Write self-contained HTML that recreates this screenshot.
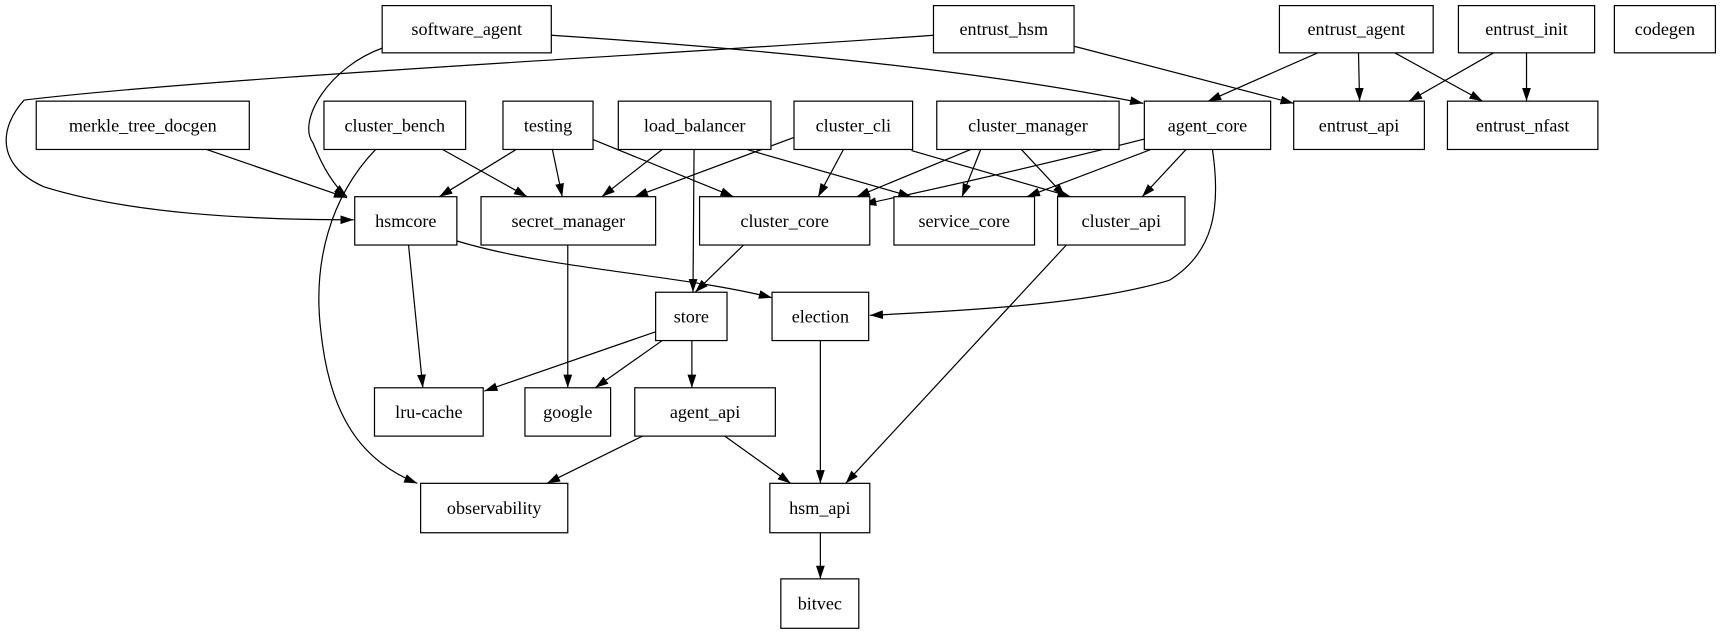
<!DOCTYPE html>
<html><head><meta charset="utf-8"><style>
html,body{margin:0;padding:0;background:#fff;}
svg{display:block;}
text{font-family:"Liberation Serif",serif;font-size:16.5px;text-anchor:middle;dominant-baseline:central;fill:#000;}
rect{fill:#fff;stroke:#000;stroke-width:1.1;}
path.e{fill:none;stroke:#000;stroke-width:1.1;marker-end:url(#a);}
</style></head><body>
<svg width="1722" height="635" viewBox="0 0 1568 578" xmlns="http://www.w3.org/2000/svg">
<defs><marker id="a" markerUnits="userSpaceOnUse" markerWidth="14" markerHeight="10" refX="12" refY="4" orient="auto"><path d="M0,0 L12,4 L0,8 z" fill="#000"/></marker></defs>
<g>
<path class="e" d="M350,43 C300,60 270,110 285,130 C295,155 305,170 316,179"/>
<path class="e" d="M502,32 C700,45 900,65 1041,94"/>
<path class="e" d="M850,32 C600,50 200,70 22,91 C0,115 -5,150 40,170 C120,195 230,200 322,200"/>
<path class="e" d="M978,42 L1178,94"/>
<path class="e" d="M1200,48 L1100,92"/>
<path class="e" d="M1237,48 L1238,92"/>
<path class="e" d="M1270,48 L1350,92"/>
<path class="e" d="M1360,48 L1283,92"/>
<path class="e" d="M1390,48 L1390,92"/>
<path class="e" d="M188,136 L316,180"/>
<path class="e" d="M403,136 L480,179"/>
<path class="e" d="M342,136 C300,180 285,240 292,300 C300,380 330,420 380,440"/>
<path class="e" d="M470,136 L400,179"/>
<path class="e" d="M503,136 L512,179"/>
<path class="e" d="M540,127 L668,179"/>
<path class="e" d="M603,136 L548,179"/>
<path class="e" d="M632,136 L631,266"/>
<path class="e" d="M680,136 L830,179"/>
<path class="e" d="M723,125 L578,179"/>
<path class="e" d="M768,136 L745,179"/>
<path class="e" d="M830,137 L975,179"/>
<path class="e" d="M884,136 L780,179"/>
<path class="e" d="M893,136 L876,179"/>
<path class="e" d="M930,136 L970,179"/>
<path class="e" d="M1044,126 C950,150 860,170 786,186"/>
<path class="e" d="M1048,136 L935,179"/>
<path class="e" d="M1080,136 L1040,179"/>
<path class="e" d="M1104,136 C1112,190 1105,230 1065,255 C1000,275 900,282 792,287"/>
<path class="e" d="M372,223 L385,353"/>
<path class="e" d="M415,219 C500,245 620,250 703,271"/>
<path class="e" d="M517,223 L517,353"/>
<path class="e" d="M677,223 L633,266"/>
<path class="e" d="M971,223 L770,440"/>
<path class="e" d="M597,302 L441,356"/>
<path class="e" d="M603,310 L542,353"/>
<path class="e" d="M630,310 L630,353"/>
<path class="e" d="M747,310 L747,440"/>
<path class="e" d="M585,397 L498,440"/>
<path class="e" d="M660,397 L720,440"/>
<path class="e" d="M747,485 L747,527"/>
</g>
<g>
<rect x="348" y="5" width="154" height="43"/><text x="425" y="26.5">software_agent</text>
<rect x="850" y="5" width="128" height="43"/><text x="914" y="26.5">entrust_hsm</text>
<rect x="1165" y="5" width="140" height="43"/><text x="1235" y="26.5">entrust_agent</text>
<rect x="1328" y="5" width="124" height="43"/><text x="1390" y="26.5">entrust_init</text>
<rect x="1470" y="5" width="92" height="43"/><text x="1516" y="26.5">codegen</text>

<rect x="33" y="92" width="194" height="44"/><text x="130" y="114">merkle_tree_docgen</text>
<rect x="295" y="92" width="129" height="44"/><text x="359.5" y="114">cluster_bench</text>
<rect x="458" y="92" width="82" height="44"/><text x="499" y="114">testing</text>
<rect x="563" y="92" width="139" height="44"/><text x="632.5" y="114">load_balancer</text>
<rect x="723" y="92" width="108" height="44"/><text x="777" y="114">cluster_cli</text>
<rect x="853" y="92" width="166" height="44"/><text x="936" y="114">cluster_manager</text>
<rect x="1042" y="92" width="115" height="44"/><text x="1099.5" y="114">agent_core</text>
<rect x="1178" y="92" width="119" height="44"/><text x="1237.5" y="114">entrust_api</text>
<rect x="1318" y="92" width="137" height="44"/><text x="1386.5" y="114">entrust_nfast</text>

<rect x="323" y="179" width="93" height="44"/><text x="369.5" y="201">hsmcore</text>
<rect x="438" y="179" width="159" height="44"/><text x="517.5" y="201">secret_manager</text>
<rect x="637" y="179" width="155" height="44"/><text x="714.5" y="201">cluster_core</text>
<rect x="814" y="179" width="128" height="44"/><text x="878" y="201">service_core</text>
<rect x="963" y="179" width="116" height="44"/><text x="1021" y="201">cluster_api</text>

<rect x="597" y="266" width="65" height="44"/><text x="629.5" y="288">store</text>
<rect x="703" y="266" width="88" height="44"/><text x="747" y="288">election</text>

<rect x="341" y="353" width="99" height="44"/><text x="390.5" y="375">lru-cache</text>
<rect x="478" y="353" width="78" height="44"/><text x="517" y="375">google</text>
<rect x="578" y="353" width="128" height="44"/><text x="642" y="375">agent_api</text>

<rect x="383" y="440" width="134" height="45"/><text x="450" y="462.5">observability</text>
<rect x="701" y="440" width="91" height="45"/><text x="746.5" y="462.5">hsm_api</text>

<rect x="711" y="527" width="71" height="45"/><text x="746.5" y="549.5">bitvec</text>
</g>
</svg>
</body></html>
